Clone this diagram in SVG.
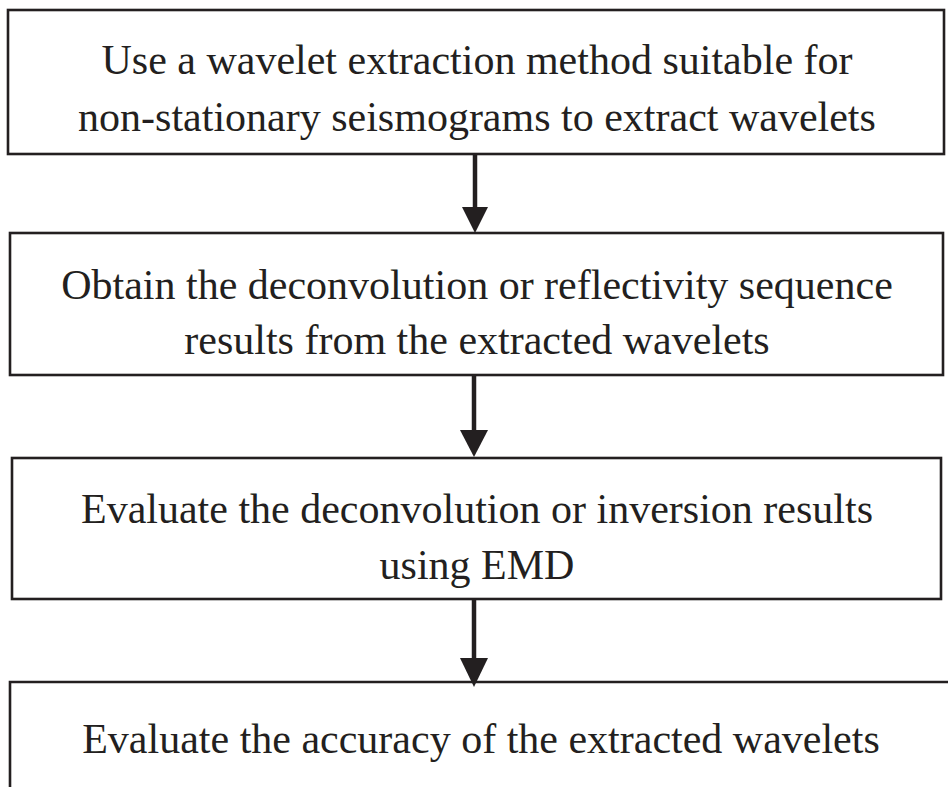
<svg xmlns="http://www.w3.org/2000/svg" width="948" height="787" viewBox="0 0 948 787">
<style>
.box{fill:#fff;stroke:#231f20;stroke-width:2.6}
.t{font-family:"Liberation Serif","Times New Roman",serif;font-size:42px;fill:#231f20;text-anchor:middle}
.c{stroke:#231f20;stroke-width:4.5;fill:none}
.h{fill:#231f20}
</style>
<rect width="948" height="787" fill="#fff"/>
<g id="n1">
<rect class="box" x="8" y="10" width="936" height="144"/>
<text class="t" x="477" y="74">Use a wavelet extraction method suitable for</text>
<text class="t" x="477" y="131">non-stationary seismograms to extract wavelets</text>
</g>
<g id="n2">
<rect class="box" x="10" y="233" width="933" height="142"/>
<text class="t" x="477" y="299">Obtain the deconvolution or reflectivity sequence</text>
<text class="t" x="477" y="354">results from the extracted wavelets</text>
</g>
<g id="n3">
<rect class="box" x="12" y="458" width="929" height="141"/>
<text class="t" x="477" y="523">Evaluate the deconvolution or inversion results</text>
<text class="t" x="477" y="579">using EMD</text>
</g>
<g id="n4">
<path class="box" d="M10 787 V682 H950"/>
<text class="t" x="481" y="753">Evaluate the accuracy of the extracted wavelets</text>
</g>
<g id="connectors">
<line class="c" x1="475" y1="154" x2="475" y2="210"/>
<polygon class="h" points="462,207 488,207 475,233"/>
<line class="c" x1="474" y1="375" x2="474" y2="433"/>
<polygon class="h" points="460,430 488,430 474,457"/>
<line class="c" x1="474" y1="599" x2="474" y2="661"/>
<polygon class="h" points="460,658 488,658 474,687"/>
</g>
</svg>
